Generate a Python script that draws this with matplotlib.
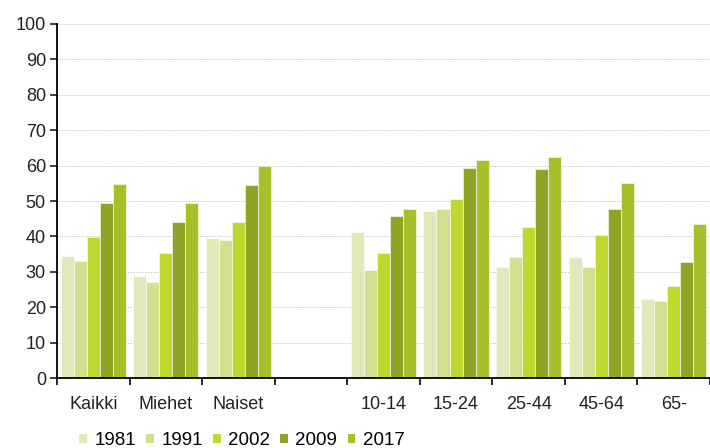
import numpy as np
import matplotlib
matplotlib.use('Agg')
import matplotlib.pyplot as plt
from matplotlib.patches import Patch

plt.rcParams['font.family'] = ['Liberation Sans', 'DejaVu Sans']

# categories (empty slot between sex and age groups)
categories = ['Kaikki', 'Miehet', 'Naiset', '', '10-14', '15-24', '25-44', '45-64', '65-']
years = ['1981', '1991', '2002', '2009', '2017']

v1981 = [34.5, 28.9, 39.5, np.nan, 41.3, 47.2, 31.4, 34.1, 22.2]
v1991 = [33.1, 27.2, 39.0, np.nan, 30.4, 47.6, 34.1, 31.4, 21.8]
v2002 = [39.9, 35.4, 44.0, np.nan, 35.4, 50.7, 42.7, 40.3, 25.9]
v2009 = [49.5, 44.0, 54.4, np.nan, 45.8, 59.4, 58.9, 47.6, 32.7]
v2017 = [54.9, 49.4, 59.8, np.nan, 47.6, 61.7, 62.5, 55.0, 43.5]

colors = ['#e0e9b9', '#d1e08f', '#bfd72f', '#8fa325', '#a9bf2a']

series = [v1981, v1991, v2002, v2009, v2017]

fig = plt.figure(figsize=(7.1, 4.48), dpi=100)
ax = fig.add_axes([57 / 710, 1 - 378 / 448, 1 - 57 / 710, (378 - 24) / 448])

x = np.arange(len(categories))
w = 0.18
for i, (vals, c) in enumerate(zip(series, colors)):
    ax.bar(x + (i - 2) * w, vals, width=w, color=c, edgecolor='white', linewidth=0.4)

ax.set_xlim(-0.5, len(categories) - 0.5)
ax.set_ylim(0, 100)
ax.set_yticks(range(0, 101, 10))
ax.set_xticks(x)
ax.set_xticklabels(categories)
ax.set_xticks(np.arange(-0.5, len(categories)), minor=True)
ax.tick_params(axis='x', which='major', length=0, pad=13, labelsize=13, colors='#222222')
ax.tick_params(axis='x', which='minor', length=5, width=1.2, direction='out')
ax.tick_params(axis='y', length=5, width=1.2, labelsize=13, colors='#222222', pad=3)

ax.grid(axis='y', linestyle=(0, (1.5, 1.5)), color='#c4c4c4', linewidth=0.7)
ax.set_axisbelow(True)
for s in ['top', 'right']:
    ax.spines[s].set_visible(False)
ax.spines['left'].set_linewidth(1.3)
ax.spines['bottom'].set_linewidth(1.3)

handles = [Patch(facecolor=c, edgecolor='none') for c in colors]
fig.legend(handles, years, loc='lower left', bbox_to_anchor=(0.088, -0.04), ncol=5,
           frameon=False, fontsize=13.5, handlelength=0.4, handleheight=0.4,
           handletextpad=0.4, columnspacing=0.55)

fig.savefig('out.png', dpi=100)
